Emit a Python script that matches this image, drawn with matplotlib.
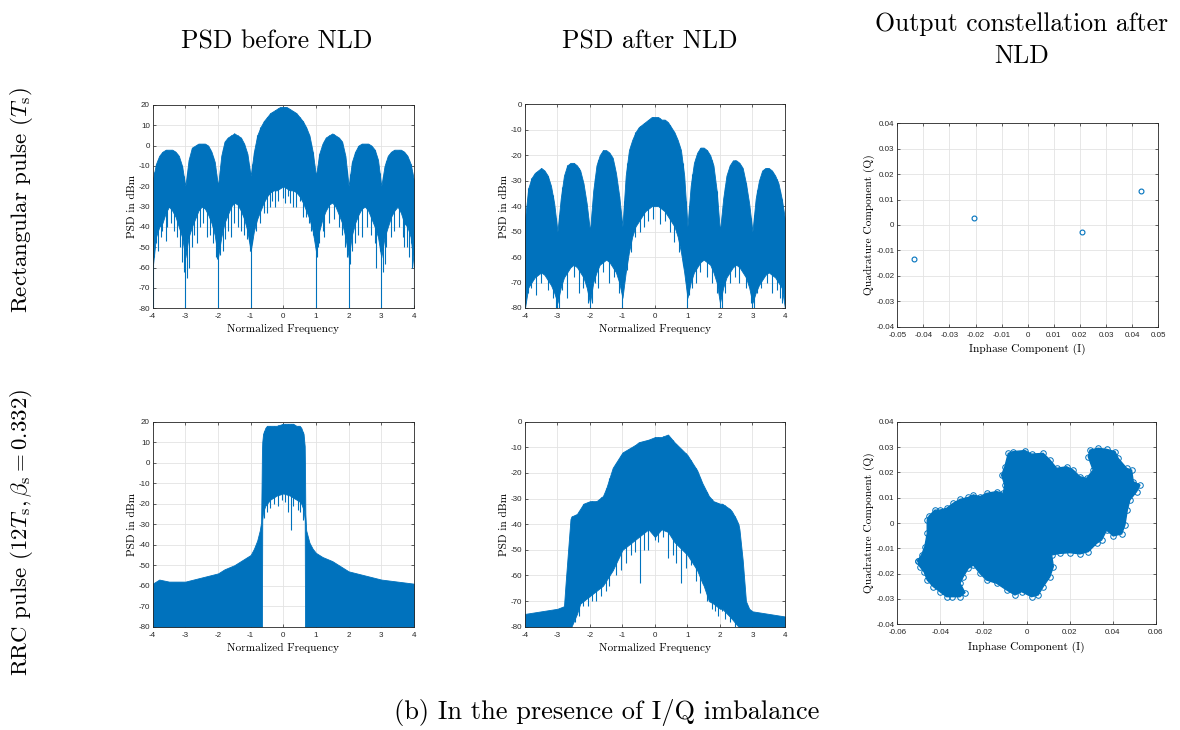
import numpy as np
import matplotlib
matplotlib.use("Agg")
from matplotlib import pyplot as plt
from matplotlib import ticker

plt.rcParams['font.family'] = ['cmr10', 'DejaVu Serif']
plt.rcParams['mathtext.fontset'] = 'cm'
plt.rcParams['axes.unicode_minus'] = False
plt.rcParams['axes.formatter.use_mathtext'] = True

BLUE = "#0072BD"
TICKFONT = "Liberation Sans"

# ---------------- data ----------------
# frequency grid used for the rectangular pulse envelopes
f_rect = np.round(np.arange(-4.0, 4.01, 0.1), 2)

# PSD before NLD, rectangular pulse: top and bottom of the dense trace (dBm)
rect_before_top = [-17, -9, -5, -3, -2, -2, -2, -3, -5, -10, -20,
                   -7, -1, 0, 1, 1, 1, 0, -3, -8, -20,
                   -5, 2, 4, 5, 6, 5, 4, 1, -4, -15,
                   -3, 5, 9, 12, 14, 16, 17, 18, 19, 19, 19, 18, 17, 16, 14, 12, 9, 5, -3, -15,
                   -4, 1, 4, 5, 6, 5, 4, 2, -5, -20,
                   -8, -3, 0, 1, 1, 1, 0, -2, -7, -20,
                   -10, -5, -3, -2, -2, -2, -3, -5, -9, -17]
rect_before_bot = [-60, -45, -40, -38, -33, -30, -32, -35, -40, -45, -55,
                   -45, -40, -36, -32, -30, -31, -34, -38, -44, -55,
                   -45, -38, -34, -30, -28, -29, -32, -36, -42, -52,
                   -42, -36, -32, -28, -25, -23, -22, -22, -21, -20, -21, -22, -22, -23, -25, -28, -32, -36, -42,
                   -52, -42, -36, -32, -29, -28, -30, -34, -38, -45, -55,
                   -44, -38, -34, -31, -30, -32, -36, -40, -45, -55,
                   -45, -40, -35, -32, -30, -33, -38, -40, -45, -60]
rect_before_spk_f = [-4, -3, -2, -1, 1, 2, 3, 4, -3.85, -3.6, -3.1, -2.9, -2.65, -2.35, -2.05,
                     -1.85, -1.6, -1.3, -1.05, -0.9, -0.7, -0.5, -0.25, 0.05, 0.3, 0.6, 0.8,
                     0.95, 1.05, 1.25, 1.7, 1.95, 2.1, 2.4, 2.85, 3.1, 3.3, 3.7, 3.85, 3.95,
                     -3.95, -3.9, -3.75, -3.7, -3.55, -3.45, -3.35, -3.25, -3.15, -3.05,
                     -2.95, -2.8, -2.75, -2.55, -2.45, -2.25, -2.15, -2.02,
                     -1.95, -1.8, -1.7, -1.5, -1.4, -1.2, -1.1, -1.02,
                     -0.95, -0.85, -0.8, -0.6, -0.4, -0.35, -0.15, 0.0, 0.15, 0.2, 0.4, 0.5,
                     0.7, 0.85, 0.9, 1.02, 1.1, 1.2, 1.4, 1.55, 1.8, 1.9,
                     2.05, 2.2, 2.3, 2.55, 2.7, 2.8, 2.95, 3.05, 3.15, 3.4, 3.55, 3.65, 3.8, 3.9]
rect_before_spk_v = [-80, -80, -80, -80, -80, -80, -80, -80, -52, -47, -57, -60, -48, -45, -55,
                     -52, -45, -42, -47, -40, -38, -33, -30, -28, -30, -35, -38,
                     -45, -50, -45, -40, -55, -52, -45, -60, -58, -45, -50, -55, -60,
                     -55, -48, -45, -42, -40, -38, -42, -45, -50, -62,
                     -65, -50, -44, -40, -38, -44, -48, -56,
                     -54, -46, -42, -38, -40, -44, -46, -52,
                     -48, -42, -36, -33, -30, -27, -27, -26, -25, -28, -30, -27,
                     -35, -42, -44, -55, -48, -42, -38, -36, -44, -50,
                     -58, -48, -44, -40, -44, -48, -52, -62, -50, -42, -40, -45, -50, -48]

# PSD after NLD, rectangular pulse
rect_after_top = [-45, -33, -29, -27, -26, -25, -26, -28, -32, -39, -50,
                  -37, -28, -24, -23, -23, -24, -26, -31, -39, -50,
                  -34, -24, -20, -18, -18, -19, -21, -27, -36, -48,
                  -28, -18, -14, -11, -9, -8, -7, -6, -5, -5, -5, -6, -6, -7, -9, -11, -14, -18, -28, -48,
                  -32, -23, -19, -17, -17, -18, -20, -24, -34, -50,
                  -37, -28, -24, -22, -22, -23, -25, -31, -39, -50,
                  -37, -30, -26, -25, -25, -26, -28, -31, -37, -45]
rect_after_bot = [-80, -72, -70, -68, -67, -66, -67, -69, -71, -74, -78,
                  -72, -68, -66, -64, -63, -64, -66, -68, -72, -78,
                  -70, -66, -63, -62, -61, -62, -64, -66, -70, -76,
                  -66, -58, -52, -48, -46, -44, -42, -41, -40, -40, -40, -41, -42, -44, -46, -48, -52, -58, -66,
                  -76, -70, -66, -64, -62, -61, -62, -63, -66, -70, -78,
                  -72, -68, -66, -64, -63, -64, -66, -68, -72, -78,
                  -74, -71, -69, -67, -66, -67, -68, -70, -72, -80]
rect_after_spk_f = [-4, -3, -2, -1, 1, 2, 3, 4, -3.65, -3.3, -2.7, -2.35, -1.75, -1.4, -0.85,
                    -0.6, -0.35, 0.15, 0.45, 0.85, 1.25, 1.6, 2.15, 2.6, 3.25, 3.6, 3.9,
                    -3.9, -3.8, -3.5, -3.15, -3.05, -2.95, -2.85, -2.5, -2.2, -2.05,
                    -1.95, -1.85, -1.6, -1.25, -1.1, -0.95, -0.75, -0.45, -0.2, -0.05, 0.3,
                    0.6, 0.75, 0.95, 1.05, 1.15, 1.4, 1.75, 1.9, 2.05, 2.3, 2.45, 2.8, 2.95,
                    3.05, 3.15, 3.45, 3.75, 3.85]
rect_after_spk_v = [-80, -80, -80, -80, -80, -80, -80, -80, -75, -73, -76, -74, -72, -70, -65,
                    -52, -48, -47, -50, -63, -70, -68, -74, -70, -72, -74, -78,
                    -74, -72, -70, -76, -80, -80, -73, -68, -72, -78,
                    -78, -70, -66, -68, -74, -68, -58, -50, -46, -45, -46,
                    -54, -58, -70, -75, -72, -66, -70, -74, -80, -70, -68, -72, -78,
                    -80, -74, -70, -73, -76]

# PSD before NLD, RRC pulse
f_rrc_before = [-4.0, -3.8, -3.5, -3.0, -2.5, -2.0, -1.8, -1.5, -1.2, -1.0, -0.9, -0.8, -0.72,
                -0.68, -0.665, -0.655, -0.645, -0.62, -0.55, -0.5, -0.4, -0.3, -0.2, 0.0, 0.2,
                0.3, 0.4, 0.5, 0.55, 0.62, 0.655, 0.665, 0.675, 0.7, 0.8, 0.9, 1.0, 1.2, 1.5,
                2.0, 2.5, 3.0, 3.5, 4.0]
rrc_before_top = [-59, -57, -58, -58, -56, -54, -52, -50, -47, -45, -42, -38, -33,
                  -29, -10, 5, 10, 14, 17, 18, 18, 18, 18, 19, 19,
                  19, 18, 18, 17, 14, 8, -5, -25, -33, -39, -42, -44, -46, -48,
                  -53, -55, -57, -58, -59]
rrc_before_bot = [-80, -80, -80, -80, -80, -80, -80, -80, -80, -80, -80, -80, -80,
                  -80, -80, -80, -28, -24, -21, -20, -18, -17, -16, -15, -16,
                  -17, -18, -19, -20, -23, -28, -80, -80, -80, -80, -80, -80, -80, -80,
                  -80, -80, -80, -80, -80]
rrc_before_spk_f = [-0.58, -0.42, -0.15, 0.15, 0.22, 0.45, 0.6, -0.5, -0.3, -0.05, 0.05,
                    0.3, 0.52]
rrc_before_spk_v = [-27, -22, -21, -24, -33, -23, -28, -24, -20, -18, -19, -21, -24]

# PSD after NLD, RRC pulse
f_rrc_after = [-4.0, -3.5, -3.0, -2.8, -2.75, -2.6, -2.57, -2.4, -2.3, -2.2, -2.0, -1.8, -1.6,
               -1.5, -1.3, -1.0, -0.6, -0.5, -0.2, 0.0, 0.2, 0.4, 0.6, 1.0, 1.05, 1.3, 1.46,
               1.5, 1.66, 1.8, 2.0, 2.07, 2.3, 2.37, 2.5, 2.57, 2.6, 2.7, 2.8, 2.9, 3.0, 3.5, 4.0]
rrc_after_top = [-75, -74, -73, -72, -63, -38, -37, -36, -34, -32, -31, -31, -29,
                 -26, -18, -12, -9, -8, -7, -6, -6, -5, -8, -13, -14, -19, -24,
                 -25, -29, -31, -32, -32, -34, -35, -38, -40, -42, -54, -70, -73, -74, -75, -76]
rrc_after_bot = [-80, -80, -80, -80, -80, -80, -80, -75, -71, -70, -68, -66, -64,
                 -62, -58, -50, -46, -45, -42, -45, -42, -43, -47, -52, -53, -58, -63,
                 -64, -70, -71, -73, -73, -76, -77, -79, -80, -80, -80, -80, -80, -80, -80, -80]
rrc_after_spk_f = [-2.55, -2.2, -1.95, -1.5, -1.2, -0.9, -0.45, -0.2, 0.1, 0.4, 0.8, 1.1,
                   1.6, 1.75, 2.05, 2.3, 2.45, -2.45, -2.35, -2.05, -1.8, -1.65, -1.4,
                   -1.05, -0.75, -0.6, -0.35, 0.0, 0.25, 0.55, 0.65, 0.95, 1.25, 1.4, 1.85,
                   1.95, 2.15]
rrc_after_spk_v = [-78, -72, -70, -66, -60, -55, -63, -50, -47, -53, -63, -56,
                   -70, -73, -74, -78, -80, -78, -76, -72, -70, -68, -64,
                   -58, -52, -51, -50, -46, -45, -52, -55, -57, -62, -67, -74,
                   -76, -77]

# constellation after NLD, rectangular pulse
const_i = [-0.0435, -0.0207, 0.0207, 0.0435]
const_q = [-0.0132, 0.0026, -0.0026, 0.0132]

# outline of the received-sample cloud, RRC pulse (I, Q)
cloud_i = [-0.0506, -0.0487, -0.0472, -0.0461, -0.0461, -0.0452, -0.0425, -0.0402, -0.0371,
           -0.0340, -0.0309, -0.0271, -0.0247, -0.0216, -0.0186, -0.0139, -0.0108, -0.0101,
           -0.0116, -0.0101, -0.0085, -0.0062, -0.0008, 0.0023, 0.0077, 0.0108, 0.0139,
           0.0186, 0.0216, 0.0247, 0.0278, 0.0309, 0.0286, 0.0294, 0.0332, 0.0371, 0.0410,
           0.0425, 0.0464, 0.0487, 0.0495, 0.0526, 0.0510, 0.0479, 0.0467, 0.0456, 0.0441,
           0.0402, 0.0371, 0.0348, 0.0325, 0.0286, 0.0247, 0.0201, 0.0155, 0.0116, 0.0124,
           0.0108, 0.0077, 0.0054, 0.0023, -0.0023, -0.0054, -0.0093, -0.0139, -0.0186,
           -0.0216, -0.0247, -0.0271, -0.0294, -0.0309, -0.0286, -0.0309, -0.0348, -0.0371,
           -0.0402, -0.0433, -0.0461, -0.0476, -0.0495]
cloud_q = [-0.0149, -0.0126, -0.0093, -0.0041, 0.0012, 0.0028, 0.0051, 0.0051, 0.0058,
           0.0078, 0.0093, 0.0101, 0.0111, 0.0104, 0.0117, 0.0124, 0.0117, 0.0150,
           0.0189, 0.0222, 0.0275, 0.0282, 0.0286, 0.0272, 0.0275, 0.0249, 0.0216,
           0.0222, 0.0209, 0.0183, 0.0176, 0.0209, 0.0262, 0.0288, 0.0295, 0.0291, 0.0282,
           0.0255, 0.0216, 0.0209, 0.0163, 0.0150, 0.0124, 0.0091, 0.0051, -0.0008, -0.0043,
           -0.0051, -0.0028, -0.0067, -0.0080, -0.0113, -0.0122, -0.0117, -0.0120, -0.0126, -0.0172,
           -0.0212, -0.0251, -0.0284, -0.0291, -0.0271, -0.0284, -0.0264, -0.0238, -0.0225,
           -0.0199, -0.0166, -0.0179, -0.0212, -0.0238, -0.0275, -0.0291, -0.0291, -0.0291,
           -0.0271, -0.0251, -0.0225, -0.0192, -0.0172]


def style_axes(ax, xticks, yticks):
    ax.set_xticks(xticks)
    ax.set_yticks(yticks)
    ax.set_xlim(xticks[0], xticks[-1])
    ax.set_ylim(yticks[0], yticks[-1])
    ax.xaxis.set_major_formatter(ticker.FuncFormatter(lambda v, p: "%g" % round(v, 4)))
    ax.yaxis.set_major_formatter(ticker.FuncFormatter(lambda v, p: "%g" % round(v, 4)))
    ax.tick_params(direction='in', length=2.5, width=0.5, top=True, right=True,
                   labelsize=5.8, colors='#262626', pad=2)
    ax.tick_params(axis='x', pad=3.5)
    for lab in ax.get_xticklabels() + ax.get_yticklabels():
        lab.set_fontfamily(TICKFONT)
    ax.grid(True, color='#E3E3E3', linewidth=0.6)
    ax.set_axisbelow(True)
    for sp in ax.spines.values():
        sp.set_linewidth(0.6)
        sp.set_color('#262626')


def psd_panel(ax, f, top, bot, spk_f, spk_v, ymax):
    ax.fill_between(f, bot, top, color=BLUE, linewidth=0.6, edgecolor=BLUE, zorder=2)
    ax.vlines(spk_f, spk_v, np.interp(spk_f, f, top), color=BLUE, linewidth=0.8, zorder=2)
    style_axes(ax, list(range(-4, 5)), list(range(-80, ymax + 1, 10)))
    ax.set_xlabel("Normalized Frequency", fontsize=8.2, labelpad=3)
    ax.set_ylabel("PSD in dBm", fontsize=8.2, labelpad=1)


def const_panel(ax, xticks):
    style_axes(ax, xticks, list(np.round(np.arange(-0.04, 0.041, 0.01), 2)))
    ax.set_xlabel("Inphase Component (I)", fontsize=8.2, labelpad=4)
    ax.set_ylabel("Quadrature Component (Q)", fontsize=8.2, labelpad=1)


fig = plt.figure(figsize=(11.8, 7.3), dpi=100)

ax1 = fig.add_axes([0.1294, 0.5777, 0.2214, 0.2785])
ax2 = fig.add_axes([0.4449, 0.5781, 0.2203, 0.2790])
ax3 = fig.add_axes([0.7604, 0.5525, 0.2212, 0.2786])
ax4 = fig.add_axes([0.1294, 0.1415, 0.2214, 0.2808])
ax5 = fig.add_axes([0.4449, 0.1415, 0.2203, 0.2808])
ax6 = fig.add_axes([0.7604, 0.1448, 0.2192, 0.2775])

psd_panel(ax1, f_rect, rect_before_top, rect_before_bot, rect_before_spk_f, rect_before_spk_v, 20)
psd_panel(ax2, f_rect, rect_after_top, rect_after_bot, rect_after_spk_f, rect_after_spk_v, 0)
psd_panel(ax4, f_rrc_before, rrc_before_top, rrc_before_bot, rrc_before_spk_f, rrc_before_spk_v, 20)
psd_panel(ax5, f_rrc_after, rrc_after_top, rrc_after_bot, rrc_after_spk_f, rrc_after_spk_v, 0)

ax3.plot(const_i, const_q, 'o', color=BLUE, markerfacecolor='none', markersize=3.5,
         markeredgewidth=0.8, zorder=3)
const_panel(ax3, list(np.round(np.arange(-0.05, 0.051, 0.01), 2)))

ax6.fill(cloud_i, cloud_q, color=BLUE, zorder=2)
ax6.plot(cloud_i + cloud_i[:1], cloud_q + cloud_q[:1], 'o', color=BLUE, markerfacecolor='none',
         markersize=4, markeredgewidth=0.7, zorder=2)
const_panel(ax6, list(np.round(np.arange(-0.06, 0.061, 0.02), 2)))

# column titles, row labels, caption
fig.text(277 / 1180, 1 - 42 / 730, "PSD before NLD", fontsize=18.5, ha='center', va='center')
fig.text(650 / 1180, 1 - 42 / 730, "PSD after NLD", fontsize=18.5, ha='center', va='center')
fig.text(1022 / 1180, 1 - 40 / 730, "Output constellation after\nNLD", fontsize=18.5,
         ha='center', va='center', linespacing=1.45)
fig.text(22 / 1180, 1 - 200 / 730, r"Rectangular pulse ($T_{\rm s}$)", fontsize=16.5,
         rotation=90, ha='center', va='center')
fig.text(22 / 1180, 1 - 532 / 730, r"RRC pulse $(12T_{\rm s}, \beta_{\rm s} = 0.332)$",
         fontsize=16.5, rotation=90, ha='center', va='center')
fig.text(607 / 1180, 1 - 713 / 730, "(b) In the presence of I/Q imbalance", fontsize=19,
         ha='center', va='center')

fig.savefig("out.png", dpi=100)
